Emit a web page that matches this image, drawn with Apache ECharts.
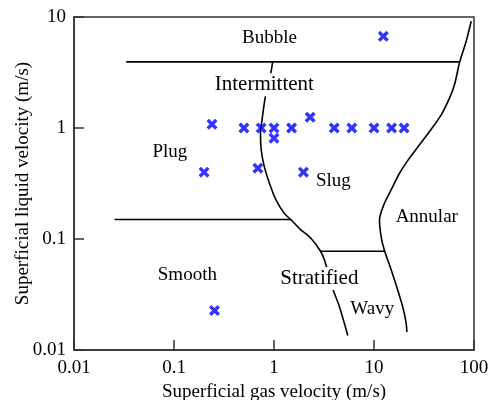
<!DOCTYPE html>
<html>
<head>
<meta charset="utf-8">
<script src="https://cdn.jsdelivr.net/npm/echarts@6/dist/echarts.min.js"></script>
<style>html,body{margin:0;padding:0;background:#fff;}#c{width:488px;height:400px;}</style>
</head>
<body>
<div id="c"></div>
<script>
// Tick labels
var xTickLabels = ['0.01', '0.1', '1', '10', '100'];
var yTickLabels = ['0.01', '0.1', '1', '10'];
var xTitle = 'Superficial gas velocity (m/s)';
var yTitle = 'Superficial liquid velocity (m/s)';

// Experimental points
var gasVel = [12.4, 0.24, 0.5, 0.745, 1, 1, 1.5, 2.3, 4, 6, 10, 15, 20, 0.2, 0.69, 1.97, 0.254];
var liqVel = [6.7, 1.08, 1, 1, 1, 0.81, 1, 1.25, 1, 1, 1, 1, 1, 0.4, 0.434, 0.4, 0.0227];

// Flow-regime boundaries
var curveAx = [0.97, 0.923, 0.82, 0.76, 0.733, 0.745, 0.80, 0.90, 1.05, 1.27, 1.49, 1.80, 2.35, 2.92, 3.2, 3.87, 4.52, 5.47];
var curveAy = [3.94, 3.02, 1.92, 1.19, 0.90, 0.635, 0.449, 0.318, 0.224, 0.170, 0.148, 0.124, 0.101, 0.0776, 0.0644, 0.0357, 0.0244, 0.0135];
var curveBx = [93.8, 83.5, 71.6, 63.8, 56.9, 47, 35.9, 28.5, 22.6, 18, 15.4, 12.7, 11.35, 11.8, 12.7, 14.9, 17.3, 19.4, 21, 21.3];
var curveBy = [9.16, 6.04, 3.86, 2.45, 1.86, 1.315, 0.929, 0.705, 0.535, 0.391, 0.296, 0.209, 0.148, 0.104, 0.0793, 0.0523, 0.0345, 0.0244, 0.0173, 0.0145];
var line1x = [0.0333, 71.6], line1y = [3.94, 3.94];
var line2x = [0.0254, 1.49], line2y = [0.15, 0.15];
var line3x = [2.92, 12.7], line3y = [0.0776, 0.0776];

// Region labels
var regionNames = ['Bubble', 'Intermittent', 'Plug', 'Slug', 'Annular', 'Smooth', 'Stratified', 'Wavy'];
var regionX = [0.9, 0.8, 0.091, 3.92, 33.7, 0.136, 2.84, 9.6];
var regionY = [6.5, 2.45, 0.61, 0.33, 0.157, 0.0478, 0.044, 0.0235];

var FONT = "'Liberation Serif', 'Times New Roman', serif";
function zip(a, b) { return a.map(function (v, i) { return [v, b[i]]; }); }
function lineSeries(xs, ys) {
  return {
    type: 'line', data: zip(xs, ys), showSymbol: false, symbol: 'none', smooth: 0.3,
    lineStyle: { color: '#000', width: 1.6 }, z: 3, silent: true
  };
}
var bigLabels = { 'Intermittent': 1, 'Stratified': 1 };

var chart = echarts.init(document.getElementById('c'), null, { renderer: 'canvas' });
chart.setOption({
  animation: false,
  backgroundColor: '#fff',
  grid: { left: 74, right: 14, top: 17, bottom: 50, show: true, borderColor: '#333', borderWidth: 1.5,
    containLabel: false, outerBoundsMode: 'none' },
  xAxis: {
    type: 'log', logBase: 10, min: 0.01, max: 100, interval: 1,
    name: xTitle, nameLocation: 'middle', nameGap: 31,
    nameTextStyle: { fontFamily: FONT, fontSize: 19, color: '#000' },
    axisLine: { show: true, lineStyle: { color: '#333', width: 1.5 } },
    axisTick: { show: true, inside: true, length: 10, lineStyle: { color: '#333', width: 1.5 } },
    minorTick: { show: false }, splitLine: { show: false }, minorSplitLine: { show: false },
    axisLabel: { fontFamily: FONT, fontSize: 19, color: '#000', margin: 9,
      formatter: function (v) { return xTickLabels[Math.round(Math.log10(v)) + 2]; } }
  },
  yAxis: {
    type: 'log', logBase: 10, min: 0.01, max: 10, interval: 1,
    name: yTitle, nameLocation: 'middle', nameGap: 41, nameRotate: 90, nameMoveOverlap: false,
    nameTextStyle: { fontFamily: FONT, fontSize: 19, color: '#000' },
    axisLine: { show: true, lineStyle: { color: '#333', width: 1.5 } },
    axisTick: { show: true, inside: true, length: 10, lineStyle: { color: '#333', width: 1.5 } },
    minorTick: { show: false }, splitLine: { show: false }, minorSplitLine: { show: false },
    axisLabel: { fontFamily: FONT, fontSize: 19, color: '#000', margin: 8,
      formatter: function (v) { return yTickLabels[Math.round(Math.log10(v)) + 2]; } }
  },
  series: [
    lineSeries(line1x, line1y),
    lineSeries(line2x, line2y),
    lineSeries(line3x, line3y),
    lineSeries(curveAx, curveAy),
    lineSeries(curveBx, curveBy),
    {
      type: 'scatter', z: 5, silent: true,
      data: regionNames.map(function (n, i) {
        return {
          name: n, value: [regionX[i], regionY[i]],
          label: { fontSize: bigLabels[n] ? 21 : 19 }
        };
      }),
      symbolSize: 1, itemStyle: { color: 'rgba(0,0,0,0)' },
      label: {
        show: true, position: 'inside', formatter: '{b}', fontFamily: FONT, color: '#000',
        opacity: 1, textBorderWidth: 0, textBorderColor: 'transparent',
        backgroundColor: '#fff', padding: [1, 2]
      }
    },
    {
      type: 'scatter', z: 6, silent: true,
      data: zip(gasVel, liqVel),
      symbol: 'path://M0,2.2L2.2,0L5,2.8L7.8,0L10,2.2L7.2,5L10,7.8L7.8,10L5,7.2L2.2,10L0,7.8L2.8,5Z',
      symbolSize: 11,
      itemStyle: { color: '#0000ff' }
    }
  ]
});
</script>
</body>
</html>
